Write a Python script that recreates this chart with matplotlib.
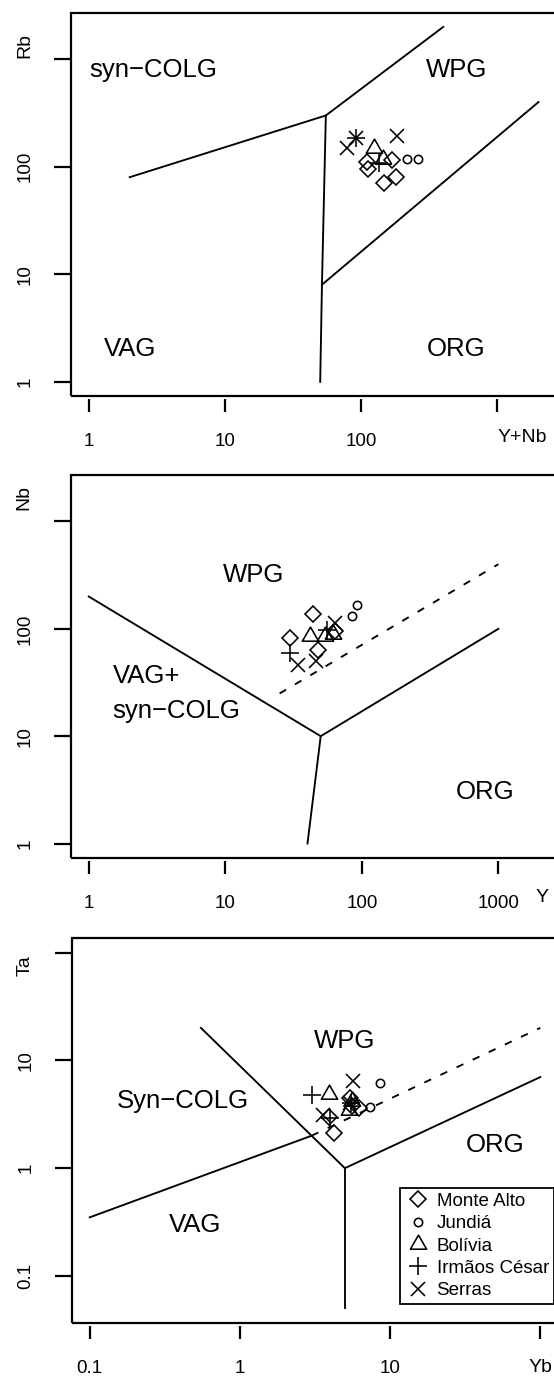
import numpy as np
import matplotlib
matplotlib.use("Agg")
import matplotlib.pyplot as plt
from matplotlib.patches import Rectangle
from matplotlib.path import Path
from matplotlib.ticker import NullLocator

plt.rcParams['font.family'] = ['Liberation Sans', 'DejaVu Sans']

W, H, DPI = 554, 1383, 100
PT = 72.0 / DPI          # points per pixel

# --- data ---------------------------------------------------------------

GROUPS = ["Monte Alto", "Jundiá", "Bolívia", "Irmãos César", "Serras"]

# Rb vs Y+Nb
ynb = {"Monte Alto": [110, 112, 169, 148, 181], "Jundiá": [215, 262],
       "Bolívia": [125, 144], "Irmãos César": [92, 136],
       "Serras": [78, 92, 182]}
rb = {"Monte Alto": [111, 96, 116, 71, 81], "Jundiá": [119, 119],
      "Bolívia": [151, 117], "Irmãos César": [187, 109],
      "Serras": [151, 187, 193]}

# Nb vs Y
y_ppm = {"Monte Alto": [44, 30, 48, 64], "Jundiá": [92, 85],
         "Bolívia": [42, 54, 62], "Irmãos César": [30, 56],
         "Serras": [34, 46, 64]}
nb = {"Monte Alto": [136, 82, 64, 95], "Jundiá": [168, 131],
      "Bolívia": [85, 86, 90], "Irmãos César": [60, 98],
      "Serras": [46, 50, 113]}

# Ta vs Yb
yb = {"Monte Alto": [4.2, 3.9, 5.4, 5.6, 6.2], "Jundiá": [8.6, 7.4],
      "Bolívia": [3.9, 5.3, 5.6], "Irmãos César": [3.0, 4.0, 5.5],
      "Serras": [3.6, 5.7, 5.4]}
ta = {"Monte Alto": [2.1, 3.0, 4.5, 3.8, 3.6], "Jundiá": [6.2, 3.7],
      "Bolívia": [4.9, 3.5, 4.2], "Irmãos César": [4.8, 2.9, 4.0],
      "Serras": [3.1, 6.4, 4.0]}

# Pearce et al. (1984) field boundaries
rb_lines = [([2, 55, 400], [80, 300, 2000]),
            ([55, 51.5, 50], [300, 8, 1]),
            ([51.5, 2000], [8, 400])]
nb_lines = [([1, 50, 1000], [200, 10, 100]),
            ([50, 40], [10, 1])]
nb_dashed = ([25, 1000], [25, 400])
ta_lines = [([0.55, 3, 5, 100], [20, 2, 1, 7]),
            ([0.1, 3], [0.35, 2]),
            ([5, 5], [1, 0.05])]
ta_dashed = ([3, 100], [2, 20])

# --- styles -------------------------------------------------------------

tri = Path([(0, 0.577), (-0.5, -0.289), (0.5, -0.289), (0, 0.577)],
           [Path.MOVETO, Path.LINETO, Path.LINETO, Path.CLOSEPOLY])
MARKERS = {"Monte Alto": ("D", 8.5), "Jundiá": ("o", 6.0),
           "Bolívia": (tri, 13.5), "Irmãos César": ("+", 13.0),
           "Serras": ("x", 10.5)}

fig = plt.figure(figsize=(W / DPI, H / DPI), dpi=DPI)


def r_limits(lo, hi):
    # R-style 4 % padding on a log axis
    a, b = np.log10(lo), np.log10(hi)
    pad = 0.04 * (b - a)
    return 10 ** (a - pad), 10 ** (b + pad)


def panel(box, xlim, ylim, xticks, xlabels, yticks, ylabels):
    left, top, right, bottom = box
    ax = fig.add_axes([left / W, 1 - bottom / H, (right - left) / W,
                       (bottom - top) / H])
    ax.set_xscale('log')
    ax.set_yscale('log')
    ax.set_xlim(*r_limits(*xlim))
    ax.set_ylim(*r_limits(*ylim))
    for s in ax.spines.values():
        s.set_visible(False)
    ax.spines['bottom'].set_position(('outward', 3 * PT))
    ax.add_patch(Rectangle((0, 0), 1, 1, transform=ax.transAxes, fill=False,
                           lw=1.6, ec='k', clip_on=False, zorder=5))
    ax.set_xticks(xticks)
    ax.set_xticklabels(xlabels)
    ax.set_yticks(yticks)
    ax.set_yticklabels(ylabels, rotation=90, va='center')
    ax.xaxis.set_minor_locator(NullLocator())
    ax.yaxis.set_minor_locator(NullLocator())
    ax.tick_params(axis='x', length=13 * PT, width=1.6, pad=21 * PT,
                   labelsize=13.5)
    ax.tick_params(axis='y', length=17 * PT, width=1.6, pad=20 * PT,
                   labelsize=13.5)
    return ax


def draw_points(ax, xs, ys):
    for g in GROUPS:
        m, ms = MARKERS[g]
        ax.plot(xs[g], ys[g], linestyle='none', marker=m, ms=ms, mfc='none',
                mec='k', mew=1.15, label=g, clip_on=False)


def fig_text(x, y, s, **kw):
    fig.text(x / W, 1 - y / H, s, ha='center', va='center', **kw)


LW = 1.35
DASH = (0, (4, 5.5))

# --- panel 1: Rb vs Y+Nb ------------------------------------------------
ax1 = panel((70.7, 12.7, 556.5, 396), (1, 2000), (1, 2000),
            [1, 10, 100, 1000], ['1', '10', '100', ''],
            [1, 10, 100, 1000], ['1', '10', '100', ''])
for xs, ys in rb_lines:
    ax1.plot(xs, ys, color='k', lw=LW)
ax1.text(3, 800, "syn\u2212COLG", fontsize=18.5, ha='center', va='center')
ax1.text(500, 800, "WPG", fontsize=18.5, ha='center', va='center')
ax1.text(2, 2, "VAG", fontsize=18.5, ha='center', va='center')
ax1.text(500, 2, "ORG", fontsize=18.5, ha='center', va='center')
draw_points(ax1, ynb, rb)
fig_text(25, 45, "Rb", fontsize=14, rotation=90)
fig_text(522, 437, "Y+Nb", fontsize=14)

# --- panel 2: Nb vs Y ---------------------------------------------------
ax2 = panel((70.7, 475, 557.5, 857.7), (1, 2000), (1, 2000),
            [1, 10, 100, 1000], ['1', '10', '100', '1000'],
            [1, 10, 100, 1000], ['1', '10', '100', ''])
for xs, ys in nb_lines:
    ax2.plot(xs, ys, color='k', lw=LW)
ax2.plot(*nb_dashed, color='k', lw=LW, linestyle=DASH)
ax2.text(16, 320, "WPG", fontsize=18.5, ha='center', va='center')
ax2.text(1.5, 36, "VAG+", fontsize=18.5, ha='left', va='center')
ax2.text(1.5, 17, "syn\u2212COLG", fontsize=18.5, ha='left', va='center')
ax2.text(800, 3, "ORG", fontsize=18.5, ha='center', va='center')
draw_points(ax2, y_ppm, nb)
fig_text(24, 497, "Nb", fontsize=14, rotation=90)
fig_text(542, 897, "Y", fontsize=14)

# --- panel 3: Ta vs Yb --------------------------------------------------
ax3 = panel((71.7, 938.3, 558.3, 1322.7), (0.1, 100), (0.05, 100),
            [0.1, 1, 10, 100], ['0.1', '1', '10', ''],
            [0.1, 1, 10, 100], ['0.1', '1', '10', ''])
for xs, ys in ta_lines:
    ax3.plot(xs, ys, color='k', lw=LW)
ax3.plot(*ta_dashed, color='k', lw=LW, linestyle=DASH)
ax3.text(5, 15, "WPG", fontsize=18.5, ha='center', va='center')
ax3.text(0.42, 4.2, "Syn\u2212COLG", fontsize=18.5, ha='center', va='center')
ax3.text(50, 1.65, "ORG", fontsize=18.5, ha='center', va='center')
ax3.text(0.5, 0.3, "VAG", fontsize=18.5, ha='center', va='center')
draw_points(ax3, yb, ta)
fig_text(25, 966, "Ta", fontsize=14, rotation=90)
fig_text(540, 1368, "Yb", fontsize=14)

leg = ax3.legend(loc='upper left', bbox_to_anchor=(400 / W, 1 - 1188 / H),
                 bbox_transform=fig.transFigure, borderaxespad=0,
                 fancybox=False, edgecolor='k', framealpha=1, fontsize=13.5,
                 handlelength=1.4, handletextpad=0.3, borderpad=0.25,
                 labelspacing=0.28)
leg.get_frame().set_linewidth(1.3)

fig.savefig("out.png", dpi=DPI)
